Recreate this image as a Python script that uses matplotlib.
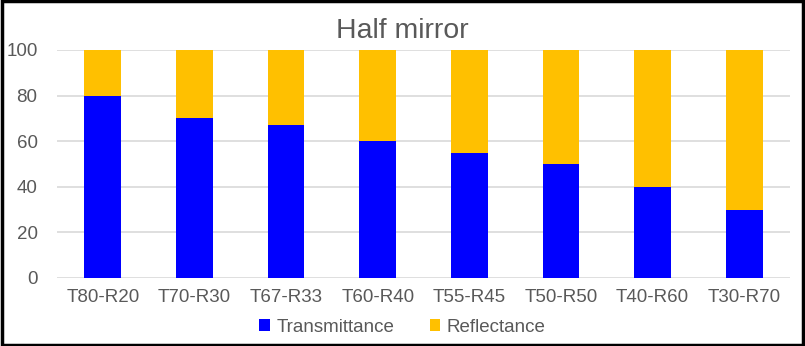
import matplotlib.pyplot as plt
from matplotlib.patches import Rectangle

categories = ["T80-R20", "T70-R30", "T67-R33", "T60-R40", "T55-R45", "T50-R50", "T40-R60", "T30-R70"]
transmittance = [80, 70, 67, 60, 55, 50, 40, 30]
reflectance = [20, 30, 33, 40, 45, 50, 60, 70]

plt.rcParams['font.family'] = ['Liberation Sans', 'DejaVu Sans']
text_color = '#595959'

fig = plt.figure(figsize=(8.05, 3.46), dpi=100)
ax = fig.add_axes([57 / 805, (346 - 278) / 346, 733 / 805, 228 / 346])

x = range(len(categories))
ax.bar(x, transmittance, width=0.4, color='#0000FF', label='Transmittance', zorder=3)
ax.bar(x, reflectance, width=0.4, bottom=transmittance, color='#FFC000', label='Reflectance', zorder=3)

ax.set_xlim(-0.5, len(categories) - 0.5)
ax.set_ylim(0, 100)
ax.set_yticks(range(0, 101, 20))
ax.set_xticks(list(x))
ax.set_xticklabels(categories)
ax.grid(axis='y', color='#d9d9d9', linewidth=1.2, zorder=0)
ax.tick_params(length=0, labelsize=13.5, colors=text_color, pad=8)
ax.tick_params(axis='y', pad=14)
for s in ax.spines.values():
    s.set_visible(False)

fig.text(0.5, 1 - 31 / 346, "Half mirror", ha='center', va='center', fontsize=20.5, color=text_color)

fig.legend(loc='center', bbox_to_anchor=(0.5, 19 / 346), ncol=2, frameon=False,
           fontsize=13.5, handlelength=0.55, handleheight=0.55, handletextpad=0.35,
           columnspacing=1.9, labelcolor=text_color)

fig.patches.append(Rectangle((0.002, 0.003), 0.996, 0.994, transform=fig.transFigure,
                             fill=False, edgecolor='black', linewidth=2.5))

fig.savefig('out.png', dpi=100)
